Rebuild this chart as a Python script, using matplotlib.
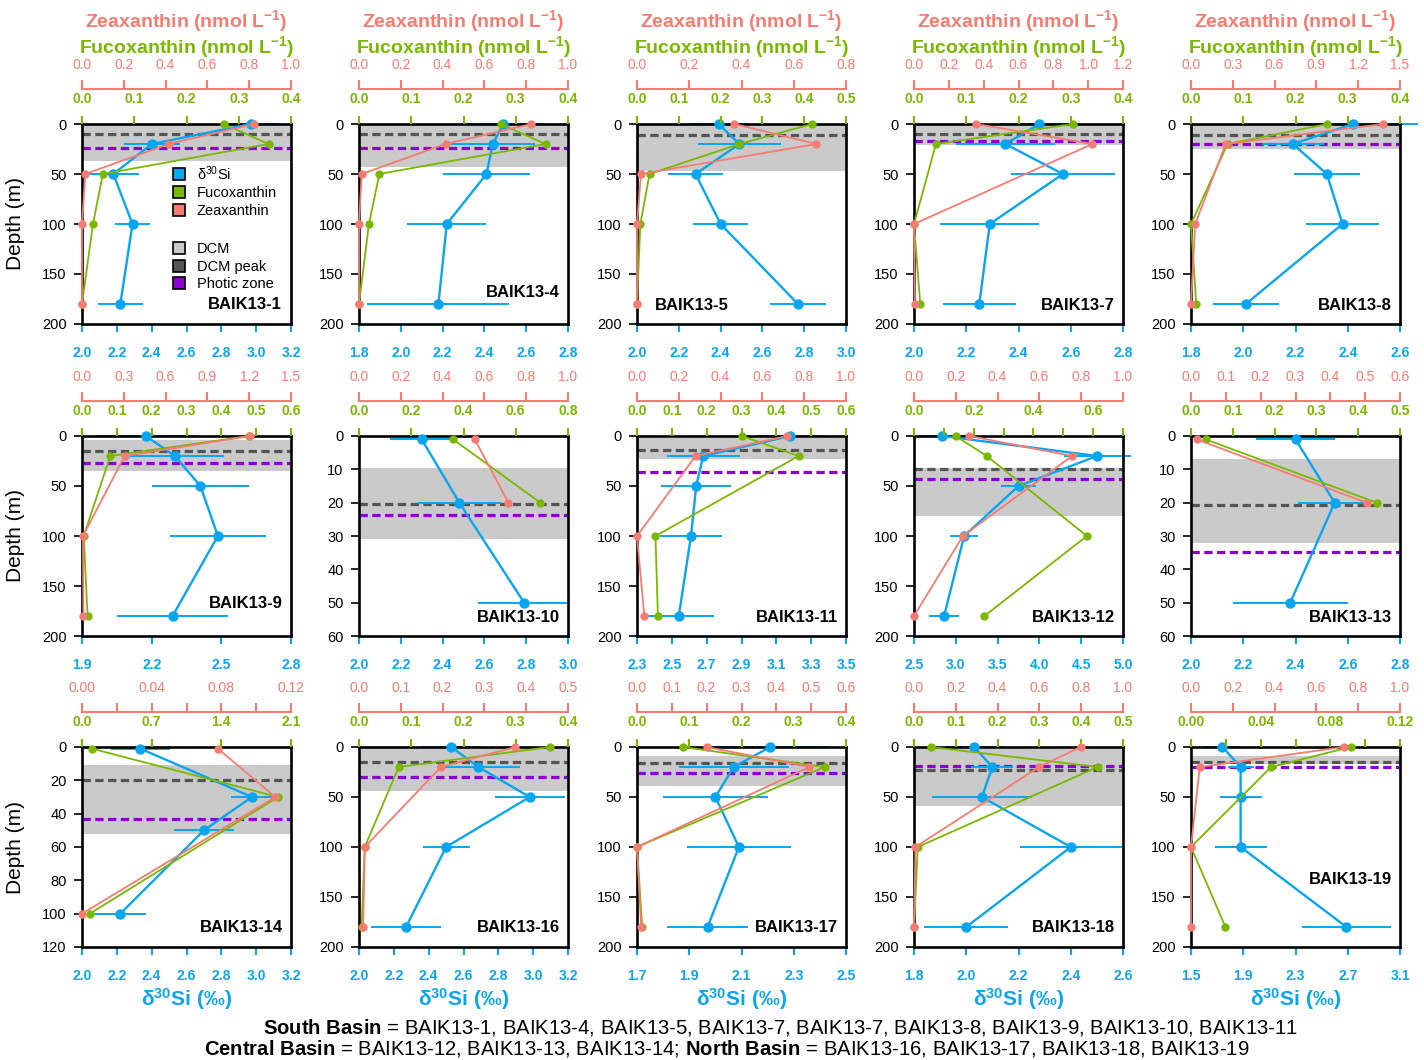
import numpy as np
import matplotlib.pyplot as plt
from matplotlib.lines import Line2D

plt.rcParams['font.family'] = 'Liberation Sans'
plt.rcParams['mathtext.fontset'] = 'custom'
plt.rcParams['mathtext.rm'] = 'Liberation Sans'
plt.rcParams['mathtext.bf'] = 'Liberation Sans:bold'
plt.rcParams['mathtext.it'] = 'Liberation Sans:italic'

BLUE = '#0AA5EF'
GREEN = '#7AB800'
RED = '#F67B72'
PURPLE = '#8C00D4'
PEAK = '#555555'
SHADE = '#CACACA'

# -------------------------------
# data (one entry per station)
# -------------------------------
stations = ["BAIK13-1", "BAIK13-4", "BAIK13-5", "BAIK13-7", "BAIK13-8",
            "BAIK13-9", "BAIK13-10", "BAIK13-11", "BAIK13-12", "BAIK13-13",
            "BAIK13-14", "BAIK13-16", "BAIK13-17", "BAIK13-18", "BAIK13-19"]

si_depth = [[0, 20, 50, 100, 180], [0, 20, 50, 100, 180], [0, 20, 50, 100, 180],
            [0, 20, 50, 100, 180], [0, 20, 50, 100, 180],
            [0, 20, 50, 100, 180], [1, 20, 50], [0, 20, 50, 100, 180],
            [0, 20, 50, 100, 180], [1, 20, 50],
            [1, 30, 50, 100], [0, 20, 50, 100, 180], [0, 20, 50, 100, 180],
            [0, 20, 50, 100, 180], [0, 20, 50, 100, 180]]

d30si = [[2.97, 2.40, 2.18, 2.29, 2.22], [2.49, 2.44, 2.41, 2.22, 2.18],
         [2.39, 2.49, 2.28, 2.40, 2.77], [2.48, 2.35, 2.57, 2.29, 2.25],
         [2.42, 2.19, 2.32, 2.38, 2.01],
         [2.175, 2.30, 2.41, 2.485, 2.29], [2.30, 2.48, 2.79],
         [3.18, 2.68, 2.64, 2.61, 2.54], [2.84, 4.69, 3.75, 3.10, 2.86],
         [2.40, 2.55, 2.38],
         [2.335, 2.976, 2.70, 2.22], [2.53, 2.685, 2.98, 2.50, 2.27],
         [2.21, 2.07, 2.00, 2.09, 1.97], [2.03, 2.10, 2.06, 2.40, 2.00],
         [1.74, 1.88, 1.88, 1.88, 2.69]]

d30si_err = [[0.16, 0.16, 0.15, 0.10, 0.13], [0.20, 0.20, 0.21, 0.19, 0.34],
             [0.14, 0.20, 0.13, 0.13, 0.135], [0.15, 0.19, 0.20, 0.19, 0.14],
             [0.25, 0.12, 0.125, 0.14, 0.127],
             [0.217, 0.21, 0.207, 0.207, 0.24], [0.15, 0.20, 0.22],
             [0.20, 0.21, 0.20, 0.18, 0.20], [0.28, 0.40, 0.21, 0.17, 0.18],
             [0.153, 0.14, 0.22],
             [0.17, 0.12, 0.17, 0.15], [0.17, 0.24, 0.20, 0.135, 0.20],
             [0.22, 0.21, 0.20, 0.20, 0.155], [0.11, 0.08, 0.19, 0.195, 0.16],
             [0.14, 0.10, 0.16, 0.20, 0.34]]

pig_depth = [[0, 20, 50, 100, 180], [0, 20, 50, 100, 180], [0, 20, 50, 100, 180],
             [0, 20, 100, 180], [0, 20, 100, 180],
             [0, 20, 100, 180], [1, 20], [0, 20, 100, 180], [0, 20, 100, 180], [1, 20],
             [1, 30, 100], [0, 20, 100, 180], [0, 20, 100, 180], [0, 20, 100, 180],
             [0, 20, 100, 180]]

fuco = [[0.271, 0.357, 0.040, 0.021, 0.0], [0.271, 0.357, 0.039, 0.019, 0.0],
        [0.419, 0.245, 0.030, 0.008, 0.0], [0.304, 0.042, 0.0, 0.012],
        [0.261, 0.070, 0.0, 0.010],
        [0.48, 0.081, 0.005, 0.016], [0.36, 0.694], [0.301, 0.464, 0.053, 0.060],
        [0.139, 0.244, 0.579, 0.236], [0.035, 0.444],
        [0.10, 1.97, 0.078], [0.365, 0.076, 0.011, 0.005], [0.088, 0.359, 0.0, 0.010],
        [0.040, 0.439, 0.009, 0.0], [0.0917, 0.046, 0.0, 0.0198]]

zea = [[0.825, 0.414, 0.016, 0.0, 0.0], [0.825, 0.414, 0.013, 0.0, 0.0],
       [0.373, 0.687, 0.015, 0.0, 0.0], [0.357, 1.024, 0.0, 0.005],
       [1.38, 0.249, 0.03, 0.0],
       [1.206, 0.306, 0.007, 0.01], [0.554, 0.715], [0.719, 0.28, 0.0, 0.035],
       [0.265, 0.756, 0.234, 0.0], [0.016, 0.504],
       [0.078, 0.111, 0.0], [0.374, 0.196, 0.014, 0.01], [0.20, 0.495, 0.0, 0.012],
       [0.797, 0.598, 0.007, 0.0], [0.731, 0.042, 0.0, 0.0]]

dcm_top = [0, 0, 0, 0, 0, 4, 9.7, 2, 32, 6.9, 10.6, 0, 8.7, 2, 8.7]
dcm_bot = [37, 43, 46.7, 21, 24.7, 34.7, 30.8, 23.3, 79.7, 32.2, 52.2, 44.3, 39.3, 59.3, 17]
dcm_peak = [10, 10, 10.7, 10, 10.7, 14.7, 20.5, 14, 33.3, 20.8, 19.6, 14.7, 16, 23, 15.3]
photic = [24, 24, None, 16.7, 19.7, 27.3, 23.6, 36, 43, 34.9, 43.2, 30, 26, 19, 20]

# -------------------------------
# axis scales per panel: (lo, hi, step[, label step])
# -------------------------------
si_axis = [(2.0, 3.2, 0.2), (1.8, 2.8, 0.2), (2.0, 3.0, 0.2), (2.0, 2.8, 0.2), (1.8, 2.6, 0.2),
           (1.9, 2.8, 0.3), (2.0, 3.0, 0.2), (2.3, 3.5, 0.2), (2.5, 5.0, 0.5), (2.0, 2.8, 0.2),
           (2.0, 3.2, 0.2), (2.0, 3.2, 0.2), (1.7, 2.5, 0.2), (1.8, 2.6, 0.2), (1.5, 3.1, 0.4)]
fuco_axis = [(0, 0.4, 0.1), (0, 0.4, 0.1), (0, 0.5, 0.1), (0, 0.4, 0.1), (0, 0.4, 0.1),
             (0, 0.6, 0.1), (0, 0.8, 0.2), (0, 0.6, 0.1), (0, 0.7, 0.1, 0.2), (0, 0.5, 0.1),
             (0, 2.1, 0.7), (0, 0.4, 0.1), (0, 0.4, 0.1), (0, 0.5, 0.1), (0, 0.12, 0.02, 0.04)]
zea_axis = [(0, 1.0, 0.2), (0, 1.0, 0.2), (0, 0.8, 0.2), (0, 1.2, 0.2), (0, 1.5, 0.3),
            (0, 1.5, 0.3), (0, 1.0, 0.2), (0, 1.0, 0.2), (0, 1.0, 0.2), (0, 0.6, 0.1),
            (0, 0.12, 0.02, 0.04), (0, 0.5, 0.1), (0, 0.6, 0.1), (0, 1.0, 0.2), (0, 1.0, 0.2)]
depth_axis = [(200, 50)] * 6 + [(60, 10)] + [(200, 50)] * 2 + [(60, 10)] + [(120, 20)] + [(200, 50)] * 4
label_pos = [(0.955, 0.095, 'right'), (0.96, 0.155, 'right'), (0.087, 0.09, 'left'),
             (0.96, 0.09, 'right'), (0.96, 0.09, 'right'),
             (0.96, 0.165, 'right'), (0.96, 0.095, 'right'), (0.96, 0.095, 'right'),
             (0.96, 0.095, 'right'), (0.96, 0.095, 'right'),
             (0.96, 0.095, 'right'), (0.96, 0.095, 'right'), (0.96, 0.095, 'right'),
             (0.96, 0.095, 'right'), (0.96, 0.34, 'right')]


def tick_setup(spec):
    lo, hi, step = spec[:3]
    lab_step = spec[3] if len(spec) > 3 else step
    n = int(round((hi - lo) / step))
    ticks = [lo + i * step for i in range(n + 1)]
    dec = 2 if step < 0.05 else 1
    labels = []
    for t in ticks:
        k = (t - lo) / lab_step
        labels.append(f"{t:.{dec}f}" if abs(k - round(k)) < 1e-6 else "")
    return ticks, labels


W, H = 1424, 1060
fig = plt.figure(figsize=(W / 100, H / 100), dpi=100)
lefts = [82, 359, 637, 914, 1191]
tops = [124, 436, 747]
pw, ph = 209, 200

for i, name in enumerate(stations):
    r, c = divmod(i, 5)
    ax = fig.add_axes([lefts[c] / W, 1 - (tops[r] + ph) / H, pw / W, ph / H])
    dmax, dstep = depth_axis[i]

    # DCM layer, peak and photic zone
    ax.axhspan(dcm_top[i], dcm_bot[i], color=SHADE, lw=0, zorder=0)
    ax.axhline(dcm_peak[i], color=PEAK, lw=2.3, dashes=(2.6, 1.4), zorder=1)
    if photic[i] is not None:
        ax.axhline(photic[i], color=PURPLE, lw=2.3, dashes=(2.6, 1.4), zorder=1)

    # d30Si with error bars
    x = np.array(d30si[i])
    e = np.array(d30si_err[i])
    ax.hlines(si_depth[i], x - e, x + e, colors=BLUE, lw=1.4, clip_on=False, zorder=2)
    ax.plot(x, si_depth[i], '-o', color=BLUE, lw=1.7, ms=7.5, mew=0, clip_on=False, zorder=3)

    ticks, labels = tick_setup(si_axis[i])
    ax.set_xlim(si_axis[i][0], si_axis[i][1])
    ax.set_xticks(ticks, labels=labels, color=BLUE, fontweight='bold', fontsize=10)
    ax.set_ylim(dmax, 0)
    ax.set_yticks(np.arange(0, dmax + 1, dstep))
    ax.tick_params(axis='x', colors=BLUE, length=6, width=1.5, pad=10)
    ax.tick_params(axis='y', colors='black', length=6, width=1.2, pad=5, labelsize=10.5)
    for s in ax.spines.values():
        s.set_linewidth(1.9)

    # fucoxanthin axis
    axf = ax.twiny()
    axf.plot(fuco[i], pig_depth[i], '-o', color=GREEN, lw=1.3, ms=6, mew=0, clip_on=False)
    ticks, labels = tick_setup(fuco_axis[i])
    axf.set_xlim(fuco_axis[i][0], fuco_axis[i][1])
    axf.set_xticks(ticks, labels=labels, color=GREEN, fontweight='bold', fontsize=10)
    axf.tick_params(axis='x', colors=GREEN, length=6, width=1.5, pad=7)
    for s in axf.spines.values():
        s.set_visible(False)

    # zeaxanthin axis
    axz = ax.twiny()
    axz.plot(zea[i], pig_depth[i], '-o', color=RED, lw=1.3, ms=6, mew=0, clip_on=False)
    ticks, labels = tick_setup(zea_axis[i])
    axz.set_xlim(zea_axis[i][0], zea_axis[i][1])
    axz.set_xticks(ticks, labels=labels, color=RED, fontweight='bold', fontsize=10)
    axz.tick_params(axis='x', colors=RED, length=6.5, width=1.5, pad=6)
    for k, s in axz.spines.items():
        s.set_visible(k == 'top')
    axz.spines['top'].set_position(('outward', 25))
    axz.spines['top'].set_color(RED)
    axz.spines['top'].set_linewidth(1.5)

    lx, ly, ha = label_pos[i]
    axz.text(lx, ly, name, transform=ax.transAxes, ha=ha, va='center',
             fontsize=12, fontweight='bold')

    cx = (lefts[c] + pw / 2) / W
    if r == 0:
        fig.text(cx, 1 - 27 / H, r"Zeaxanthin (nmol L$^{\mathbf{-1}}$)", color=RED,
                 fontsize=14, fontweight='bold', ha='center', va='baseline')
        fig.text(cx, 1 - 53 / H, r"Fucoxanthin (nmol L$^{\mathbf{-1}}$)", color=GREEN,
                 fontsize=14, fontweight='bold', ha='center', va='baseline')
    if r == 2:
        fig.text(cx, 1 - 1006 / H, r"δ$^{\mathbf{30}}$Si (‰)", color=BLUE,
                 fontsize=15, fontweight='bold', ha='center', va='baseline')
    if c == 0:
        fig.text(16 / W, 1 - (tops[r] + ph / 2) / H, "Depth (m)", rotation=90,
                 fontsize=15, ha='center', va='center')

    if i == 0:
        h1 = [Line2D([], [], marker='s', ls='none', mfc=col, mec='black', mew=1.2, ms=8.5)
              for col in (BLUE, GREEN, RED)]
        leg1 = axz.legend(h1, [r"δ$^{30}$Si", "Fucoxanthin", "Zeaxanthin"],
                          loc='upper left', bbox_to_anchor=(0.43, 0.80),
                          bbox_transform=ax.transAxes, frameon=False, fontsize=10.5,
                          handlelength=1, handletextpad=0.7, labelspacing=0.25,
                          borderpad=0, borderaxespad=0)
        axz.add_artist(leg1)
        h2 = [Line2D([], [], marker='s', ls='none', mfc=col, mec='black', mew=1.2, ms=8.5)
              for col in (SHADE, PEAK, PURPLE)]
        axz.legend(h2, ["DCM", "DCM peak", "Photic zone"],
                   loc='upper left', bbox_to_anchor=(0.43, 0.41),
                   bbox_transform=ax.transAxes, frameon=False, fontsize=10.5,
                   handlelength=1, handletextpad=0.7, labelspacing=0.25,
                   borderpad=0, borderaxespad=0)

fig.text(780 / W, 1 - 1033 / H,
         r"$\mathbf{South\ Basin}$ = BAIK13-1, BAIK13-4, BAIK13-5, BAIK13-7, BAIK13-7, "
         "BAIK13-8, BAIK13-9, BAIK13-10, BAIK13-11",
         ha='center', va='baseline', fontsize=14.6)
fig.text(727 / W, 1 - 1054.5 / H,
         r"$\mathbf{Central\ Basin}$ = BAIK13-12, BAIK13-13, BAIK13-14; "
         r"$\mathbf{North\ Basin}$ = BAIK13-16, BAIK13-17, BAIK13-18, BAIK13-19",
         ha='center', va='baseline', fontsize=14.6)

fig.savefig("out.png", dpi=100)
